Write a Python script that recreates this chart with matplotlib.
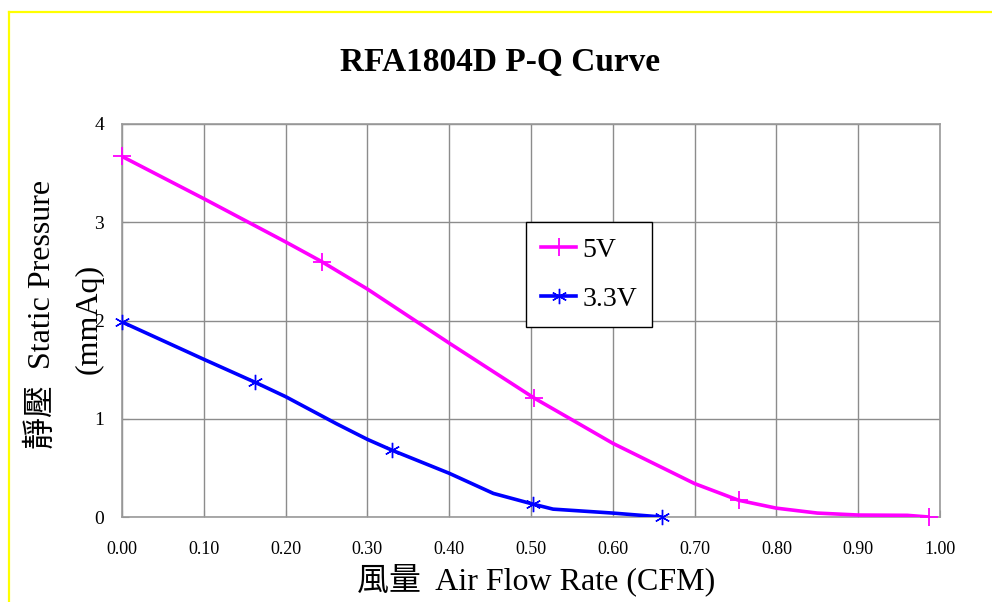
"""
RFA1804D fan P-Q curve (static pressure vs air flow) at 5V and 3.3V.
"""

import matplotlib
matplotlib.use("Agg")
import matplotlib.pyplot as plt
from matplotlib.lines import Line2D

# =====================================================
# Data
# =====================================================
# 5V curve (line vertices)
flow_5v = [0.0, 0.10, 0.20, 0.244, 0.30, 0.40, 0.504, 0.55, 0.60, 0.70, 0.754, 0.80, 0.85, 0.90, 0.96, 0.986]
pres_5v = [3.67, 3.24, 2.80, 2.60, 2.32, 1.77, 1.21, 0.99, 0.75, 0.34, 0.17, 0.09, 0.04, 0.02, 0.017, 0.0]
# 5V measured points (markers)
flow_5v_pts = [0.0, 0.244, 0.504, 0.754, 0.986]
pres_5v_pts = [3.67, 2.60, 1.21, 0.17, 0.0]

# 3.3V curve (line vertices)
flow_33v = [0.0, 0.10, 0.163, 0.20, 0.262, 0.30, 0.33, 0.40, 0.454, 0.503, 0.527, 0.60, 0.66]
pres_33v = [1.985, 1.605, 1.37, 1.225, 0.95, 0.79, 0.68, 0.445, 0.24, 0.13, 0.08, 0.04, 0.0]
# 3.3V measured points (markers)
flow_33v_pts = [0.0, 0.163, 0.33, 0.503, 0.66]
pres_33v_pts = [1.985, 1.37, 0.68, 0.13, 0.0]

x_ticks = [0.0, 0.1, 0.2, 0.3, 0.4, 0.5, 0.6, 0.7, 0.8, 0.9, 1.0]
y_ticks = [0, 1, 2, 3, 4]
series_names = ["5V", "3.3V"]

# Times-like font, CJK falls back to Noto
plt.rcParams['font.family'] = ['Liberation Serif', 'Noto Sans CJK TC']

W, H = 992, 602
fig = plt.figure(figsize=(W / 100, H / 100), dpi=100)
ax = fig.add_axes([122 / W, 1 - 517 / H, (940 - 122) / W, (517 - 124) / H])

MAGENTA = '#ff00ff'
BLUE = '#0000ff'
GRID = '#8c8c8c'
STAR = (6, 2, 0)

# curves
ax.plot(flow_5v, pres_5v, color=MAGENTA, lw=2.6, solid_capstyle='round', zorder=3)
ax.plot(flow_5v_pts, pres_5v_pts, ls='none', marker='+', ms=13, mew=1.3,
        color=MAGENTA, clip_on=False, zorder=4)
ax.plot(flow_33v, pres_33v, color=BLUE, lw=2.6, solid_capstyle='round', zorder=3)
ax.plot(flow_33v_pts, pres_33v_pts, ls='none', marker=STAR, ms=11, mew=1.0,
        color=BLUE, clip_on=False, zorder=4)

# axes formatting
ax.set_xlim(0, 1.0)
ax.set_ylim(0, 4)
ax.set_xticks(x_ticks)
ax.set_xticklabels([f"{v:.2f}" for v in x_ticks])
ax.set_yticks(y_ticks)
ax.set_yticklabels([str(v) for v in y_ticks])
ax.tick_params(axis='x', direction='in', length=5, color=GRID, labelsize=13, pad=17)
ax.tick_params(axis='y', direction='in', length=5, color=GRID, labelsize=14, pad=13)
ax.grid(True, color=GRID, lw=1.0)
ax.set_axisbelow(True)
for s in ax.spines.values():
    s.set_color('#9a9a9a')
    s.set_linewidth(1.2)

# legend
handles = [
    Line2D([], [], color=MAGENTA, lw=2.6, marker='+', ms=13, mew=1.3),
    Line2D([], [], color=BLUE, lw=2.6, marker=STAR, ms=11, mew=1.0),
]
leg = ax.legend(handles, series_names, loc='upper left',
                bbox_to_anchor=(526 / W, 1 - 222 / H), bbox_transform=fig.transFigure,
                borderaxespad=0, fontsize=20, frameon=True, fancybox=False,
                framealpha=1, edgecolor='black', handlelength=1.25,
                handletextpad=0.22, borderpad=0.55, labelspacing=0.85)
leg.get_frame().set_linewidth(1.0)

# titles and labels
fig.text(500 / W, 1 - 62 / H, "RFA1804D P-Q Curve", ha='center', va='center',
         fontsize=24, fontweight='bold')
fig.text(536 / W, 1 - 580 / H, "風量  Air Flow Rate (CFM)", ha='center', va='center',
         fontsize=23)
fig.text(41 / W, 1 - 314 / H, "靜壓  Static Pressure", ha='center', va='center',
         rotation=90, fontsize=23)
fig.text(89 / W, 1 - 319 / H, "(mmAq)", ha='center', va='center',
         rotation=90, fontsize=23)

# yellow frame (only left and top edges fall inside the picture)
fig.add_artist(Line2D([9 / W, 9 / W], [0, 1 - 12 / H], color='#ffff00', lw=1.6,
                      transform=fig.transFigure))
fig.add_artist(Line2D([9 / W, 1], [1 - 12 / H, 1 - 12 / H], color='#ffff00', lw=1.6,
                      transform=fig.transFigure))

fig.savefig("out.png", dpi=100, facecolor='white')
